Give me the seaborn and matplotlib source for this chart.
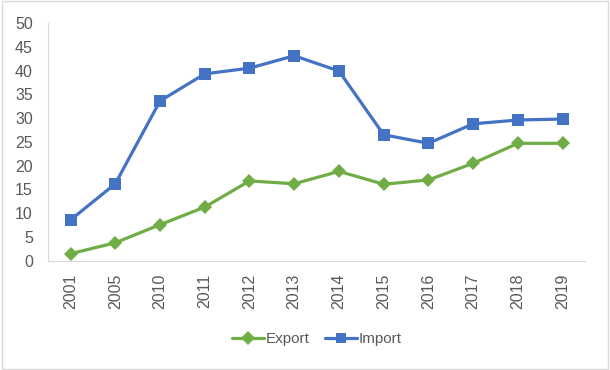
import pandas as pd
import seaborn as sns
import matplotlib.pyplot as plt

years = ["2001", "2005", "2010", "2011", "2012", "2013", "2014", "2015", "2016", "2017", "2018", "2019"]
export_vals = [1.5, 3.8, 7.6, 11.3, 16.8, 16.2, 18.8, 16.1, 17.0, 20.5, 24.7, 24.7]
import_vals = [8.6, 16.2, 33.6, 39.3, 40.5, 43.1, 39.9, 26.5, 24.7, 28.8, 29.6, 29.8]

df = pd.DataFrame({
    "year": years * 2,
    "value": export_vals + import_vals,
    "series": ["Export"] * len(years) + ["Import"] * len(years),
})

sns.set_style("white")
plt.rcParams['font.family'] = ['Liberation Sans', 'DejaVu Sans']

fig = plt.figure(figsize=(6.1, 3.7), dpi=100)
ax = fig.add_axes([0.079, 0.295, 0.88, 0.643])

sns.lineplot(data=df, x="year", y="value", hue="series", style="series",
             palette={"Export": "#70AD47", "Import": "#4472C4"},
             markers={"Export": "D", "Import": "s"}, dashes=False,
             markersize=7, markeredgewidth=0, linewidth=2.3, sort=False, ax=ax)
ax.lines[1].set_markersize(8)

ax.set_ylim(0, 50)
ax.set_yticks(range(0, 51, 5))
ax.set_xlim(-0.5, len(years) - 0.5)
ax.set_xlabel("")
ax.set_ylabel("")
ax.tick_params(axis="both", colors="#595959", labelsize=11.5, length=0)
ax.tick_params(axis="x", pad=9)
ax.tick_params(axis="y", pad=11)
plt.setp(ax.get_xticklabels(), rotation=90)
for side in ["top", "right"]:
    ax.spines[side].set_visible(False)
for side in ["left", "bottom"]:
    ax.spines[side].set_color("#d9d9d9")
    ax.spines[side].set_linewidth(0.8)

handles, labels = ax.get_legend_handles_labels()
ax.legend(handles, labels, loc="center", bbox_to_anchor=(0.5, -0.328), ncol=2,
          frameon=False, fontsize=11, labelcolor="#595959", handlelength=2.1,
          handletextpad=0.1, columnspacing=1.0)

fig.patches.append(plt.Rectangle((0.003, 0.003), 0.994, 0.994, transform=fig.transFigure,
                                 fill=False, edgecolor="#d9d9d9", linewidth=1))

fig.savefig("out.png", dpi=100)
